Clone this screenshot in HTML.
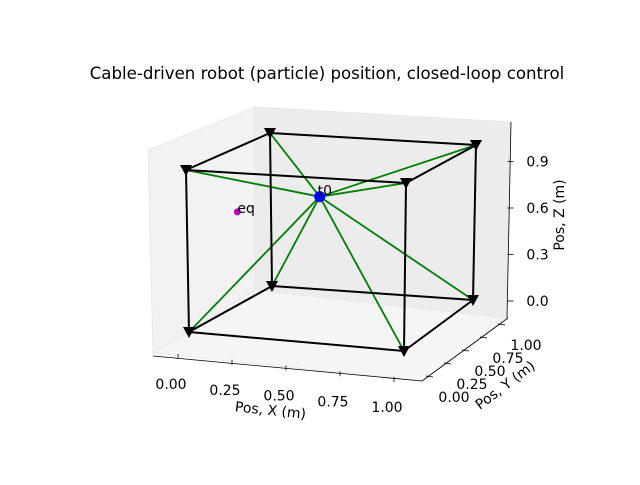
<!DOCTYPE html>
<html><head><meta charset="utf-8"><style>
body{margin:0;background:#fff}
svg text{font-family:"DejaVu Sans","Liberation Sans",sans-serif;fill:#000}
</style></head><body>
<svg id="chart" width="640" height="480" viewBox="0 0 640 480" xmlns="http://www.w3.org/2000/svg">
<rect width="640" height="480" fill="#fff"/>
<text x="327" y="79" text-anchor="middle" font-size="16.6">Cable-driven robot (particle) position, closed-loop control</text>
<polygon points="148,150 255,107 255,290 153,353" fill="#f2f2f2" stroke="#e6e6e6" stroke-width="0.8"/>
<polygon points="255,107 511,122 506,318 255,290" fill="#ececec" stroke="#e6e6e6" stroke-width="0.8"/>
<polygon points="153,353 255,290 506,318 422,381" fill="#f5f5f5" stroke="#e6e6e6" stroke-width="0.8"/>
<g id="axes">
<line x1="153" y1="356" x2="422" y2="381" stroke="#000" stroke-width="0.8"/>
<line x1="422" y1="381" x2="508" y2="318" stroke="#000" stroke-width="0.8"/>
<line x1="511" y1="122" x2="507" y2="318" stroke="#000" stroke-width="0.8"/>
</g>
<text x="270" y="415" transform="rotate(6 270 415)" text-anchor="middle" font-size="14">Pos, X (m)</text>
<text x="508" y="389" transform="rotate(-37 508 389)" text-anchor="middle" font-size="14">Pos, Y (m)</text>
<text x="564" y="215" transform="rotate(-90 564 215)" text-anchor="middle" font-size="14">Pos, Z (m)</text>
<g id="marks"></g>
</svg>
<script>
const xTicks=[0,0.25,0.5,0.75,1];
const xTickLabels=["0.00","0.25","0.50","0.75","1.00"];
const yTicks=[0,0.25,0.5,0.75,1];
const yTickLabels=["0.00","0.25","0.50","0.75","1.00"];
const zTicks=[0,0.3,0.6,0.9];
const zTickLabels=["0.0","0.3","0.6","0.9"];
const anchorX=[0,1,0,1,0,1,0,1];
const anchorY=[0,0,1,1,0,0,1,1];
const anchorZ=[0,0,0,0,1,1,1,1];
const edgesFrom=[0,1,3,2,4,5,7,6,0,1,2,3];
const edgesTo=[1,3,2,0,5,7,6,4,4,5,6,7];
const particle=[0.43,0.5,0.75];
const eq=[0.04,0.5,0.62];
const C={"000":[189,332],"100":[404,351],"010":[272,286],"110":[473,300],
"001":[186,170],"101":[406,183],"011":[270,133],"111":[476,145]};
function P(x,y,z){let r=[0,0];for(const a of[0,1])for(const b of[0,1])for(const c of[0,1]){
const w=(a?x:1-x)*(b?y:1-y)*(c?z:1-z);const p=C[""+a+b+c];r[0]+=w*p[0];r[1]+=w*p[1];}return r;}
function xAxis(v){return [178+v*216,356+v*23];}
function yAxis(v){return [428+v*72,376-v*52];}
function zAxis(v){return [510.5,301-v*155];}
const NS="http://www.w3.org/2000/svg",g=document.getElementById("marks");
function mk(t,a){const e=document.createElementNS(NS,t);for(const k in a)e.setAttribute(k,a[k]);g.appendChild(e);return e;}
xTicks.forEach((v,i)=>{const[p,q]=xAxis(v);
const t=mk("line",{x1:p,y1:q-2,x2:p,y2:q+3,stroke:"#000","stroke-width":0.8});


const l=mk("text",{x:p-7,y:q+33,"text-anchor":"middle","font-size":14});l.textContent=xTickLabels[i];

});
yTicks.forEach((v,i)=>{const[p,q]=yAxis(v);
const t=mk("line",{x1:p-2,y1:q,x2:p+5,y2:q+1,stroke:"#000","stroke-width":0.8});


const l=mk("text",{x:p+26,y:q+26,"text-anchor":"middle","font-size":14});l.textContent=yTickLabels[i];

});
zTicks.forEach((v,i)=>{const[p,q]=zAxis(v);
const t=mk("line",{x1:p-3,y1:q,x2:p+3,y2:q,stroke:"#000","stroke-width":0.8});


const l=mk("text",{x:p+27,y:q+5,"text-anchor":"middle","font-size":14});l.textContent=zTickLabels[i];

});
const pp=P(...particle);
for(let i=0;i<8;i++){const a=P(anchorX[i],anchorY[i],anchorZ[i]);
const c=mk("line",{x1:pp[0],y1:pp[1],x2:a[0],y2:a[1],stroke:"#008000","stroke-width":1.8});

}
for(let i=0;i<edgesFrom.length;i++){const a=P(anchorX[edgesFrom[i]],anchorY[edgesFrom[i]],anchorZ[edgesFrom[i]]);
const b=P(anchorX[edgesTo[i]],anchorY[edgesTo[i]],anchorZ[edgesTo[i]]);
const e=mk("line",{x1:a[0],y1:a[1],x2:b[0],y2:b[1],stroke:"#000","stroke-width":2});

}
for(let i=0;i<8;i++){const[a,b]=P(anchorX[i],anchorY[i],anchorZ[i]);
const m=mk("polygon",{points:`${a-6},${b-5} ${a+6},${b-5} ${a},${b+6}`,fill:"#000"});

}
const pm=mk("circle",{cx:pp[0],cy:pp[1],r:5.5,fill:"#0000ff"});


const pl=mk("text",{x:pp[0]-2,y:pp[1]-1,"font-size":14});pl.textContent="t0";


const ep=P(...eq);
const em=mk("circle",{cx:ep[0],cy:ep[1],r:3.5,fill:"#c000c0"});


const el=mk("text",{x:ep[0],y:ep[1]+1,"font-size":14});el.textContent="eq";


</script>
</body></html>
